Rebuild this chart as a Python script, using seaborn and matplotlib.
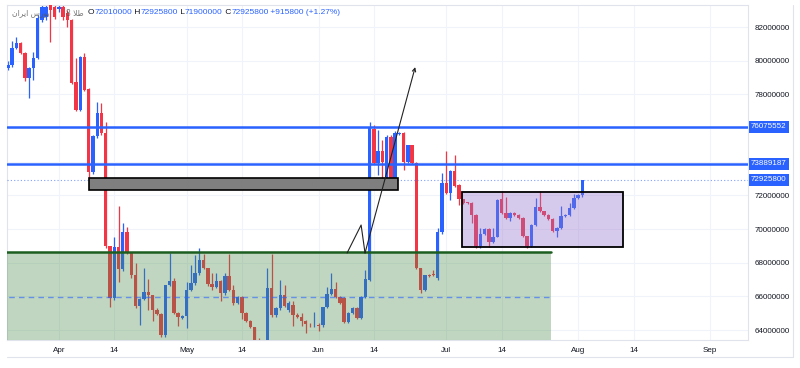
import matplotlib
matplotlib.use("Agg")
import matplotlib.pyplot as plt
import matplotlib.dates as mdates
from matplotlib.patches import Rectangle
from matplotlib.lines import Line2D
from matplotlib.transforms import blended_transform_factory
import pandas as pd
import seaborn as sns

# daily candles, prices in millions
START = "2024-03-20"
OPEN = [79.57, 79.74, 80.75, 81.05, 80.46, 78.97, 79.57, 80.16, 82.42, 82.60,
        83.60, 83.19, 83.05, 83.19, 82.83, 82.42, 78.73, 77.07, 80.22, 78.32,
        73.39, 75.53, 76.89, 75.70, 68.99, 65.90, 68.93, 67.63, 69.82, 68.58,
        67.27, 65.43, 65.84, 66.26, 66.08, 65.19, 64.95, 63.71, 66.68, 66.91,
        65.01, 64.71, 64.83, 66.38, 66.79, 67.39, 68.16, 67.68, 66.74, 66.56,
        66.91, 66.20, 67.21, 66.38, 65.61, 65.97, 65.01, 64.54, 64.18, 63.20,
        63.10, 63.30, 66.50, 64.89, 65.31, 66.08, 65.19, 65.49, 64.89, 64.77,
        64.54, 64.33, 64.28, 64.32, 64.30, 65.37, 66.14, 66.44, 65.97, 65.90,
        64.48, 65.01, 65.31, 64.71, 65.97, 66.97, 75.94, 73.92, 74.64, 72.61,
        75.47, 72.91, 75.64, 75.70, 73.98, 74.99, 73.92, 67.68, 66.38, 67.27,
        67.33, 67.09, 69.82, 72.73, 72.14, 73.45, 72.61, 71.78, 71.57, 71.55,
        70.83, 68.99, 69.70, 70.00, 69.23, 69.53, 71.78, 70.95, 70.65, 70.95,
        70.83, 70.65, 69.59, 68.99, 70.24, 71.31, 71.07, 70.83, 70.60, 69.88,
        70.06, 70.77, 70.83, 71.25, 71.84, 72.01]
HIGH = [79.98, 81.17, 81.40, 81.10, 80.50, 79.60, 80.52, 82.70, 83.50, 83.50,
        83.80, 83.40, 83.40, 83.40, 83.00, 82.50, 80.16, 80.30, 80.46, 78.40,
        75.60, 77.55, 77.49, 76.36, 69.00, 69.53, 71.37, 70.36, 70.12, 68.60,
        67.98, 65.90, 67.68, 67.03, 66.10, 65.30, 65.00, 66.70, 68.58, 67.09,
        65.05, 64.90, 66.85, 67.86, 68.46, 68.87, 68.52, 67.70, 67.39, 67.39,
        66.95, 67.39, 68.52, 66.68, 66.00, 66.00, 65.05, 64.60, 64.20, 63.55,
        63.35, 67.68, 68.52, 65.35, 66.97, 66.68, 65.70, 65.70, 65.00, 65.01,
        64.60, 64.40, 65.07, 64.40, 65.40, 66.56, 67.39, 66.85, 66.00, 65.95,
        65.05, 65.35, 65.35, 66.00, 67.56, 76.36, 76.18, 75.88, 75.30, 75.60,
        75.60, 75.80, 75.76, 75.76, 75.00, 75.00, 74.00, 67.70, 67.30, 67.35,
        67.56, 70.06, 73.33, 74.64, 73.50, 74.40, 72.65, 71.80, 71.60, 71.60,
        70.90, 70.06, 70.06, 70.05, 70.06, 71.80, 72.26, 71.90, 71.00, 71.00,
        70.90, 70.70, 69.60, 70.30, 71.84, 72.26, 71.10, 70.90, 70.65, 70.10,
        71.37, 70.90, 71.55, 72.08, 72.10, 72.9258]
LOW = [79.45, 79.60, 80.70, 80.40, 78.79, 77.78, 78.85, 80.10, 82.30, 82.40,
       81.11, 82.50, 82.90, 82.40, 82.00, 78.60, 77.00, 77.00, 78.20, 72.91,
       73.30, 75.40, 75.60, 68.90, 65.37, 65.80, 66.85, 67.50, 68.50, 67.09,
       65.30, 64.30, 65.80, 65.19, 64.54, 64.90, 63.60, 63.60, 66.60, 64.95,
       64.24, 64.65, 64.12, 66.30, 66.70, 67.30, 67.60, 66.60, 66.38, 66.50,
       65.73, 66.10, 66.30, 65.50, 65.55, 64.66, 64.45, 64.10, 63.00, 62.90,
       62.80, 63.20, 64.80, 64.80, 65.20, 65.40, 65.10, 64.24, 64.70, 64.24,
       63.82, 64.20, 64.20, 63.94, 64.20, 65.30, 66.10, 65.90, 65.55, 64.40,
       64.40, 64.95, 64.65, 64.65, 65.90, 66.90, 73.85, 73.21, 72.90, 72.50,
       73.00, 72.80, 75.60, 73.51, 73.90, 73.85, 67.60, 66.20, 66.30, 67.15,
       67.20, 67.00, 69.70, 72.10, 71.72, 72.50, 71.43, 71.50, 71.50, 70.36,
       68.90, 68.90, 69.65, 68.93, 69.15, 69.50, 70.90, 70.60, 70.50, 70.80,
       70.60, 69.50, 68.90, 68.95, 70.20, 71.00, 70.80, 70.55, 69.80, 69.53,
       70.00, 70.70, 70.80, 71.20, 71.80, 71.90]
CLOSE = [79.74, 80.75, 81.05, 80.46, 78.97, 79.57, 80.16, 82.53, 83.19, 83.20,
         83.00, 82.59, 83.19, 82.59, 82.42, 78.67, 77.07, 80.22, 78.26, 73.39,
         75.53, 76.89, 75.70, 68.99, 65.90, 68.93, 67.63, 69.82, 68.58, 67.27,
         65.43, 65.84, 66.26, 66.08, 65.19, 64.95, 63.71, 66.68, 66.91, 65.01,
         64.77, 64.83, 66.38, 66.79, 67.39, 68.16, 67.68, 66.74, 66.56, 66.91,
         66.20, 67.21, 66.38, 65.61, 65.97, 65.01, 64.54, 64.18, 63.20, 63.10,
         63.30, 66.50, 64.89, 65.31, 66.08, 65.43, 65.61, 64.89, 64.77, 64.54,
         64.36, 64.28, 64.32, 64.24, 65.37, 66.14, 66.44, 65.97, 65.61, 64.48,
         65.01, 65.31, 64.71, 65.97, 67.03, 76.00, 73.92, 74.64, 73.98, 75.47,
         73.03, 75.70, 75.70, 73.98, 74.99, 73.92, 67.68, 66.38, 67.27, 67.21,
         67.27, 69.82, 72.73, 72.14, 73.45, 72.56, 71.78, 71.55, 71.53, 70.83,
         68.99, 69.70, 70.00, 69.23, 69.53, 71.72, 70.95, 70.65, 70.95, 70.83,
         70.65, 69.59, 68.99, 70.24, 71.31, 71.07, 70.83, 70.60, 69.88, 70.06,
         70.77, 70.83, 71.25, 71.84, 72.02, 72.9258]

PRICE_TICKS = [64, 66, 68, 70, 72, 74, 76, 78, 80, 82]
HIDDEN_TICKS = [74, 76]  # covered by the level labels on the scale
TIME_TICKS = ["2024-04-01", "2024-04-14", "2024-05-01", "2024-05-14", "2024-06-01",
              "2024-06-14", "2024-07-01", "2024-07-14", "2024-08-01", "2024-08-14",
              "2024-09-01"]
TIME_LABELS = ["Apr", "14", "May", "14", "Jun", "14", "Jul", "14", "Aug", "14", "Sep"]

# drawings on the chart
H_LEVELS = [76.075552, 73.889187]
LAST_PRICE = 72.9258
GRAY_BOX = ("2024-04-08 01:00", "2024-06-19 17:00", 72.32, 73.03)
GREEN_ZONE = ("2024-03-15 00:00", "2024-07-25 14:00", 60.0, 68.63)
GREEN_MID = 65.97
PURPLE_BOX = ("2024-07-04 17:00", "2024-08-11 14:00", 68.93, 72.20)
PATH_DATES = ["2024-06-07 17:00", "2024-06-11 00:00", "2024-06-11 22:00", "2024-06-23 17:00"]
PATH_PRICES = [68.58, 70.24, 68.58, 79.62]

UP, DOWN = "#2962ff", "#f23645"
TXT = "#131722"


def dnum(seq):
    return mdates.date2num(pd.to_datetime(list(seq), format="mixed"))


sns.set_theme(style="white")
plt.rcParams["font.family"] = ["Liberation Sans", "DejaVu Sans"]

df = pd.DataFrame({"date": pd.date_range(START, periods=len(OPEN), freq="D"),
                   "open": OPEN, "high": HIGH, "low": LOW, "close": CLOSE})
df["x"] = mdates.date2num(df["date"])
df["color"] = [UP if c >= o else DOWN for o, c in zip(df["open"], df["close"])]
df["bottom"] = df[["open", "close"]].min(axis=1)
df["height"] = (df["close"] - df["open"]).abs().clip(lower=0.05)

fig = plt.figure(figsize=(8, 3.68), dpi=100)
ax = fig.add_axes([7 / 800, 28 / 368, 741 / 800, 335 / 368])

x0 = mdates.date2num(pd.Timestamp(START))
ax.set_xlim(x0 - 0.2, x0 + 173.9)
ax.set_ylim(63.41, 83.31)

# grid
for t in dnum(TIME_TICKS):
    ax.axvline(t, color="#f0f3fa", lw=0.8, zorder=0)
for p in PRICE_TICKS:
    ax.axhline(p, color="#f0f3fa", lw=0.8, zorder=0)

# candles
ax.vlines(df["x"], df["low"], df["high"], colors=df["color"], lw=0.9, zorder=2)
ax.bar(df["x"], df["height"], bottom=df["bottom"], width=0.8, color=df["color"],
       lw=0, zorder=3)

# zones
gz = dnum(GREEN_ZONE[:2])
ax.add_patch(Rectangle((gz[0], GREEN_ZONE[2]), gz[1] - gz[0], GREEN_ZONE[3] - GREEN_ZONE[2],
                       facecolor="#4c8c4c", alpha=0.35, lw=0, zorder=4))
ax.plot(gz, [GREEN_ZONE[3]] * 2, color="#1b5e20", lw=1.8, zorder=5)
ax.plot(gz, [GREEN_MID] * 2, color=UP, lw=1, alpha=0.6, dashes=(4, 3), zorder=5)

pb = dnum(PURPLE_BOX[:2])
ax.add_patch(Rectangle((pb[0], PURPLE_BOX[2]), pb[1] - pb[0], PURPLE_BOX[3] - PURPLE_BOX[2],
                       facecolor="#9575cd", alpha=0.38, edgecolor="none", zorder=4))
ax.add_patch(Rectangle((pb[0], PURPLE_BOX[2]), pb[1] - pb[0], PURPLE_BOX[3] - PURPLE_BOX[2],
                       facecolor="none", edgecolor="black", lw=1.3, zorder=6))

gb = dnum(GRAY_BOX[:2])
ax.add_patch(Rectangle((gb[0], GRAY_BOX[2]), gb[1] - gb[0], GRAY_BOX[3] - GRAY_BOX[2],
                       facecolor="#7f7f7f", edgecolor="black", lw=1.2, zorder=6))

# horizontal levels
for lv in H_LEVELS:
    ax.axhline(lv, color=UP, lw=1.8, zorder=5)
ax.axhline(LAST_PRICE, color=UP, lw=0.8, ls=(0, (1, 2)), alpha=0.6, zorder=5)

# trend path with arrow
px = dnum(PATH_DATES)
ax.plot(px[:3], PATH_PRICES[:3], color="#222222", lw=0.8, zorder=7)
ax.annotate("", xy=(px[3], PATH_PRICES[3]), xytext=(px[2], PATH_PRICES[2]),
            arrowprops=dict(arrowstyle="->", color="#222222", lw=0.8,
                            mutation_scale=6, shrinkA=0, shrinkB=0), zorder=7)

# axes
ax.yaxis.tick_right()
ax.set_yticks(PRICE_TICKS)
ax.set_yticklabels(["" if p in HIDDEN_TICKS else f"{p * 1e6:.0f}" for p in PRICE_TICKS])
ax.set_xticks(dnum(TIME_TICKS))
ax.set_xticklabels(TIME_LABELS)
ax.tick_params(axis="both", length=0, labelsize=5.8, labelcolor=TXT)
ax.tick_params(axis="y", pad=5)
ax.tick_params(axis="x", pad=5)
for s in ax.spines.values():
    s.set_color("#e0e3eb")
    s.set_linewidth(0.8)

# frame under the time scale
fig.add_artist(Line2D([7 / 800, 793 / 800], [1 - 357 / 368] * 2, color="#e0e3eb", lw=0.8))
fig.add_artist(Line2D([793 / 800] * 2, [1 - 357 / 368, 1 - 5 / 368], color="#e0e3eb", lw=0.8))

# price labels on the scale
tr = blended_transform_factory(ax.transAxes, ax.transData)
for lv in H_LEVELS + [LAST_PRICE]:
    ax.text(1.004, lv, f"{lv * 1e6:.0f}", transform=tr, fontsize=5.8, color="white",
            va="center", ha="left", zorder=10, clip_on=False,
            bbox=dict(boxstyle="square,pad=0.3", fc=UP, ec="none"))

# header
fig.text(12 / 800, 1 - 13 / 368,
         "\uFEE5\uFE8D\uFEAE\uFEF3\uFE8D \uFEB1\uFEAD\uFEEE\uFE91",
         fontsize=5.5, color="#555555", va="center", alpha=0.8, family="DejaVu Sans")
fig.text(66 / 800, 1 - 13 / 368, "8 \uFEFC\uFEC3", fontsize=5.5, color="#555555",
         va="center", alpha=0.8, family="DejaVu Sans")
parts = [("O", TXT), ("72010000", UP), (" H", TXT), ("72925800", UP), (" L", TXT),
         ("71900000", UP), (" C", TXT), ("72925800", UP), (" +915800 (+1.27%)", UP)]
fig.canvas.draw()
xpos = 88 / 800
r = fig.canvas.get_renderer()
for s, c in parts:
    t = fig.text(xpos, 1 - 13 / 368, s, fontsize=6, color=c, va="center")
    xpos += t.get_window_extent(r).width / 800

fig.savefig("out.png", dpi=100)
